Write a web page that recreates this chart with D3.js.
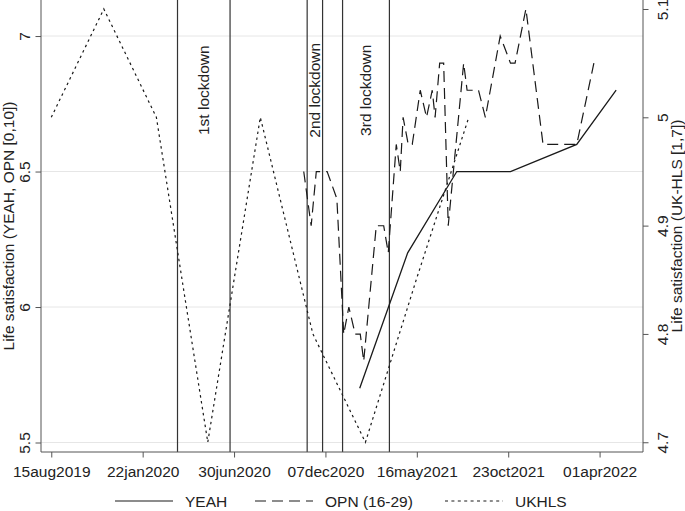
<!DOCTYPE html>
<html>
  <head>
    <meta charset="utf-8" />
    <title>Life satisfaction - YEAH, OPN, UKHLS</title>
    <style>
      html,
      body {
        margin: 0;
        padding: 0;
        background-color: white;
      }
      svg {
        display: block;
        font-family: "Liberation Sans", Arial, sans-serif;
      }
      .axis path,
      .axis line {
        stroke: #555;
      }
      .axis text {
        fill: #222;
        font-size: 15.5px;
      }
    </style>
  </head>

  <body>
    <script src="https://cdn.jsdelivr.net/npm/d3@7"></script>
    <script>
      var w = 685;
      var h = 511;

      // plot region (note: "top" is taken by window.top)
      var plotLeft = 41, plotRight = 643, plotTop = 0, plotBottom = 452;

      // ---- data ----
      var xTicks = ["2019-08-15", "2020-01-22", "2020-06-30", "2020-12-07", "2021-05-16", "2021-10-23", "2022-04-01"];
      var leftTicks = [5.5, 6, 6.5, 7];
      var rightTicks = [4.7, 4.8, 4.9, 5, 5.1];

      var lockStart = ["2020-03-23", "2020-11-05", "2021-01-06"];
      var lockEnd = ["2020-06-23", "2020-12-02", "2021-03-29"];
      var lockLabels = ["1st lockdown", "2nd lockdown", "3rd lockdown"];

      var yeahDates = ["2021-02-05", "2021-04-30", "2021-07-25", "2021-10-27", "2022-02-20", "2022-04-30"];
      var yeahValues = [5.7, 6.2, 6.5, 6.5, 6.6, 6.8];

      var opnDates = [
        "2020-10-30", "2020-11-12", "2020-11-21", "2020-12-10", "2020-12-27",
        "2021-01-08", "2021-01-17", "2021-01-28", "2021-02-06", "2021-02-12",
        "2021-03-06", "2021-03-19", "2021-03-27", "2021-04-10", "2021-04-17",
        "2021-04-22", "2021-05-01", "2021-05-08", "2021-05-22", "2021-06-02",
        "2021-06-12", "2021-06-17", "2021-06-25", "2021-07-02", "2021-07-10",
        "2021-08-06", "2021-08-12", "2021-09-01", "2021-09-13", "2021-10-09",
        "2021-10-27", "2021-11-04", "2021-11-23", "2021-12-23", "2022-02-20",
        "2022-03-22"
      ];
      var opnValues = [
        6.5, 6.3, 6.5, 6.5, 6.4,
        5.9, 6.0, 5.9, 5.9, 5.8,
        6.3, 6.3, 6.2, 6.6, 6.5,
        6.7, 6.6, 6.6, 6.8, 6.7,
        6.8, 6.7, 6.9, 6.9, 6.3,
        6.9, 6.8, 6.8, 6.7, 7.0,
        6.9, 6.9, 7.1, 6.6, 6.6,
        6.9
      ];

      var ukhlsDates = ["2019-08-15", "2019-11-15", "2020-02-15", "2020-05-15", "2020-08-15", "2020-11-15", "2021-02-15", "2021-05-15", "2021-08-15"];
      var ukhlsValues = [5.0, 5.1, 5.0, 4.7, 5.0, 4.8, 4.7, 4.85, 5.0];

      var parse = d3.utcParse("%Y-%m-%d");
      var fmt = d3.utcFormat("%d%b%Y");
      var numFmt = function(d) { return String(d); };

      var svg = d3
        .select("body")
        .append("svg")
        .attr("width", w)
        .attr("height", h);

      var x = d3.scaleUtc()
        .domain([parse("2019-07-28"), parse("2022-06-16")])
        .range([plotLeft, plotRight]);

      var yL = d3.scaleLinear()
        .domain([5.465, 7.133])
        .range([plotBottom, plotTop]);

      var yR = d3.scaleLinear()
        .domain([4.691, 5.1083])
        .range([plotBottom, plotTop]);

      // gridlines
      svg.selectAll(".grid")
        .data(leftTicks)
        .enter()
        .append("line")
        .attr("class", "grid")
        .attr("x1", plotLeft)
        .attr("x2", plotRight)
        .attr("y1", function(d) { return yL(d); })
        .attr("y2", function(d) { return yL(d); })
        .attr("stroke", "#e6e6e6")
        .attr("stroke-width", 1);

      // lockdown lines
      lockStart.concat(lockEnd).forEach(function(d) {
        svg.append("line")
          .attr("x1", x(parse(d)))
          .attr("x2", x(parse(d)))
          .attr("y1", plotTop)
          .attr("y2", plotBottom)
          .attr("stroke", "#333")
          .attr("stroke-width", 1.2);
      });

      svg.selectAll(".lockLabel")
        .data(lockLabels)
        .enter()
        .append("text")
        .attr("class", "lockLabel")
        .attr("transform", function(d, i) {
          var cx = (x(parse(lockStart[i])) + x(parse(lockEnd[i]))) / 2;
          return "translate(" + cx + "," + yL(6.8) + ") rotate(-90)";
        })
        .attr("text-anchor", "middle")
        .attr("dy", "0.35em")
        .attr("font-size", "15.5px")
        .attr("fill", "#222")
        .text(function(d) { return d; });

      // axes
      var xAxis = d3.axisBottom(x)
        .tickValues(xTicks.map(parse))
        .tickFormat(function(d) { return fmt(d).toLowerCase(); })
        .tickSize(5.5)
        .tickSizeOuter(0);

      var gx = svg.append("g")
        .attr("class", "axis")
        .attr("transform", "translate(0," + plotBottom + ")")
        .call(xAxis);
      gx.select(".domain").attr("d", "M" + plotLeft + ",0H" + plotRight);
      gx.selectAll("text").attr("y", 24.5).attr("dy", null);

      var gl = svg.append("g")
        .attr("class", "axis")
        .attr("transform", "translate(" + plotLeft + ",0)")
        .call(d3.axisLeft(yL).tickValues(leftTicks).tickFormat(numFmt).tickSize(5.5).tickSizeOuter(0));
      gl.select(".domain").attr("d", "M0," + plotTop + "V" + plotBottom);
      gl.selectAll("text")
        .attr("x", null)
        .attr("dy", null)
        .attr("text-anchor", "middle")
        .attr("transform", "translate(-11.5,0) rotate(-90)");

      var gr = svg.append("g")
        .attr("class", "axis")
        .attr("transform", "translate(" + plotRight + ",0)")
        .call(d3.axisRight(yR).tickValues(rightTicks).tickFormat(numFmt).tickSize(5.5).tickSizeOuter(0));
      gr.select(".domain").attr("d", "M0," + plotTop + "V" + plotBottom);
      gr.selectAll("text")
        .attr("x", null)
        .attr("dy", null)
        .attr("text-anchor", "middle")
        .attr("transform", "translate(24.5,0) rotate(-90)");

      // axis titles
      svg.append("text")
        .attr("transform", "translate(13.5," + (plotTop + plotBottom) / 2 + ") rotate(-90)")
        .attr("text-anchor", "middle")
        .attr("font-size", "15.5px")
        .attr("fill", "#222")
        .text("Life satisfaction (YEAH, OPN [0,10])");

      svg.append("text")
        .attr("transform", "translate(682," + (plotTop + plotBottom) / 2 + ") rotate(-90)")
        .attr("text-anchor", "middle")
        .attr("font-size", "15.5px")
        .attr("fill", "#222")
        .text("Life satisfaction (UK-HLS [1,7])");

      // series
      function series(dates, values, yScale) {
        return dates.map(function(d, i) { return [x(parse(d)), yScale(values[i])]; });
      }
      var line = d3.line();

      svg.append("path")
        .attr("d", line(series(ukhlsDates, ukhlsValues, yR)))
        .attr("fill", "none")
        .attr("stroke", "#1a1a1a")
        .attr("stroke-width", 1.2)
        .attr("stroke-dasharray", "2.5,3.5");

      svg.append("path")
        .attr("d", line(series(opnDates, opnValues, yL)))
        .attr("fill", "none")
        .attr("stroke", "#1a1a1a")
        .attr("stroke-width", 1.2)
        .attr("stroke-dasharray", "11,6");

      svg.append("path")
        .attr("d", line(series(yeahDates, yeahValues, yL)))
        .attr("fill", "none")
        .attr("stroke", "#1a1a1a")
        .attr("stroke-width", 1.3);

      // legend
      var legendNames = ["YEAH", "OPN (16-29)", "UKHLS"];
      var legendDash = [null, "11,6", "3,3.4"];
      var legendX = [115, 255, 445];
      var legendY = 501;

      legendNames.forEach(function(name, i) {
        svg.append("line")
          .attr("x1", legendX[i])
          .attr("x2", legendX[i] + 58)
          .attr("y1", legendY)
          .attr("y2", legendY)
          .attr("stroke", "#1a1a1a")
          .attr("stroke-width", 1.2)
          .attr("stroke-dasharray", legendDash[i]);
        svg.append("text")
          .attr("x", legendX[i] + 70)
          .attr("y", legendY + 6)
          .attr("font-size", "15.5px")
          .attr("fill", "#222")
          .text(name);
      });
    </script>
  </body>
</html>
